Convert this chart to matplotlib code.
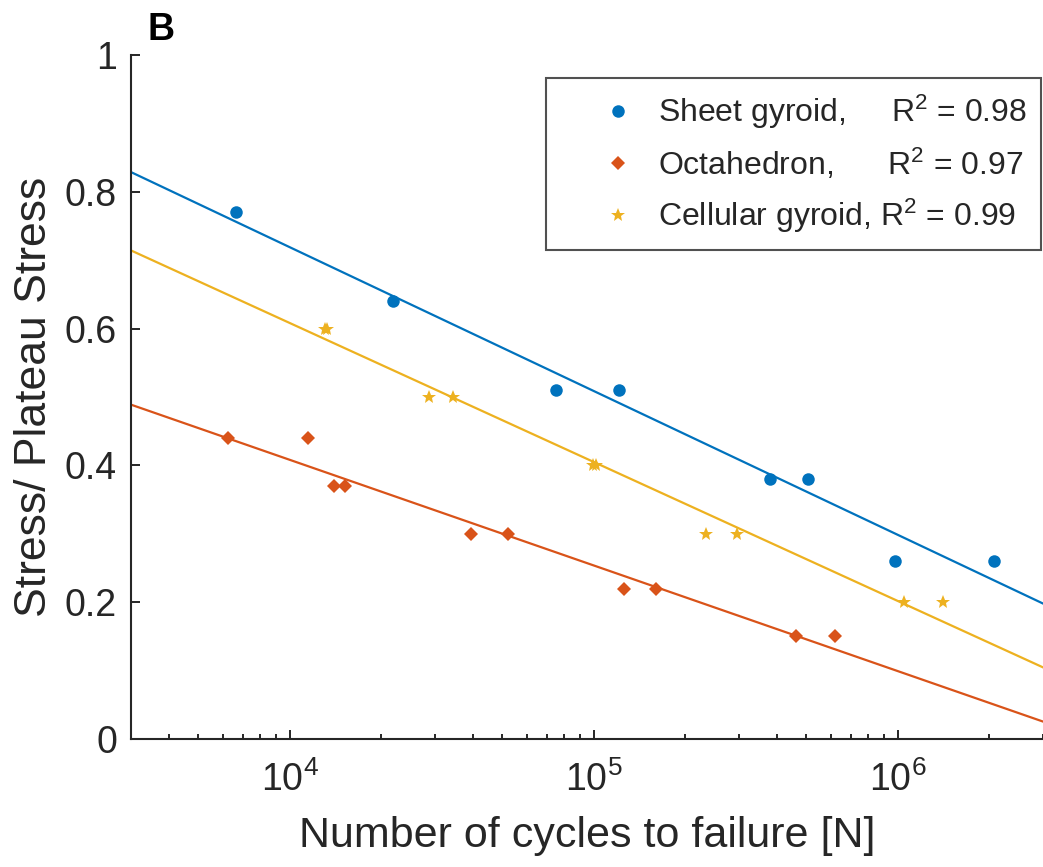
import numpy as np
import matplotlib
matplotlib.use("Agg")
import matplotlib.pyplot as plt

plt.rcParams['font.family'] = ['Liberation Sans', 'DejaVu Sans']
plt.rcParams['mathtext.fontset'] = 'custom'
plt.rcParams['mathtext.rm'] = 'Liberation Sans'
plt.rcParams['mathtext.it'] = 'Liberation Sans:italic'
plt.rcParams['mathtext.bf'] = 'Liberation Sans:bold'

# Sheet gyroid
sheet_cycles = [6640, 21800, 75000, 121000, 379000, 506000, 977000, 2070000]
sheet_stress = [0.77, 0.64, 0.51, 0.51, 0.38, 0.38, 0.26, 0.26]

# Octahedron
octa_cycles = [6250, 11500, 13950, 15200, 39400, 52100, 126000, 160000, 461000, 621000]
octa_stress = [0.44, 0.44, 0.37, 0.37, 0.30, 0.30, 0.22, 0.22, 0.15, 0.15]

# Cellular gyroid
cell_cycles = [13000, 13200, 28600, 34400, 99500, 101500, 233000, 295000, 1050000, 1410000]
cell_stress = [0.60, 0.60, 0.50, 0.50, 0.40, 0.40, 0.30, 0.30, 0.20, 0.20]

labels = ["Sheet gyroid,     R$^2$ = 0.98",
          "Octahedron,      R$^2$ = 0.97",
          "Cellular gyroid, R$^2$ = 0.99"]

colors = ['#0072BD', '#D95319', '#EDB120']
markers = ['o', 'D', '*']
msizes = [9, 7.5, 10]

xlim = (3e3, 3e6)
dark = '#262626'

fig = plt.figure(figsize=(10.43, 8.67), dpi=100)
ax = fig.add_axes([0.1256, 0.1476, 0.8744, 0.789])

series = [(sheet_cycles, sheet_stress), (octa_cycles, octa_stress), (cell_cycles, cell_stress)]
xfit = np.logspace(np.log10(xlim[0]), np.log10(xlim[1]), 50)
for (n, s), c, m, ms, lab in zip(series, colors, markers, msizes, labels):
    coef = np.polyfit(np.log10(n), s, 1)
    ax.plot(xfit, np.polyval(coef, np.log10(xfit)), color=c, lw=1.6, zorder=2)
    ax.plot(n, s, linestyle='none', marker=m, color=c, markersize=ms,
            markeredgewidth=0, label=lab, zorder=3)

ax.set_xscale('log')
ax.set_xlim(*xlim)
ax.set_ylim(0, 1)
ax.set_yticks([0, 0.2, 0.4, 0.6, 0.8, 1])
ax.set_yticklabels(['0', '0.2', '0.4', '0.6', '0.8', '1'])

for sp in ['top', 'right']:
    ax.spines[sp].set_visible(False)
for sp in ['left', 'bottom']:
    ax.spines[sp].set_linewidth(1.5)
    ax.spines[sp].set_color(dark)

ax.tick_params(axis='both', which='major', direction='in', length=6.5, width=1.4,
               colors=dark, labelsize=27)
ax.tick_params(axis='x', which='minor', direction='in', length=3.6, width=1.4, colors=dark)
ax.tick_params(axis='y', which='major', pad=10)
ax.tick_params(axis='x', which='major', pad=16)

ax.set_xlabel("Number of cycles to failure [N]", fontsize=31, color=dark, labelpad=12)
ax.set_ylabel("Stress/ Plateau Stress", fontsize=32, color=dark, labelpad=7)

leg = ax.legend(loc='upper right', bbox_to_anchor=(0.998, 0.966), fontsize=23,
                frameon=True, fancybox=False, edgecolor=dark, handlelength=3.6,
                handletextpad=-0.55, labelspacing=0.48, borderpad=0.45, borderaxespad=0)
leg.get_frame().set_linewidth(1.5)
for t in leg.get_texts():
    t.set_color(dark)

fig.text(148 / 1043, 1 - 40 / 867, 'B', fontsize=27, fontweight='bold', color='black')

fig.savefig('out.png', dpi=100)
